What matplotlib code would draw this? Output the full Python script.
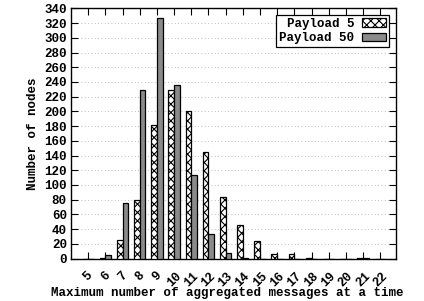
import numpy as np
import matplotlib
matplotlib.use("Agg")
from matplotlib import pyplot as plt

plt.rcParams['font.family'] = ['Liberation Mono', 'DejaVu Sans Mono']
plt.rcParams['font.weight'] = 'bold'
plt.rcParams['axes.labelweight'] = 'bold'
plt.rcParams['hatch.linewidth'] = 0.8

# values
max_aggregated = [5, 6, 7, 8, 9, 10, 11, 12, 13, 14, 15, 16, 17, 18, 19, 20, 21, 22]
payload_5 = [0, 1, 25, 80, 181, 229, 200, 145, 84, 45, 24, 6, 6, 1, 0, 0, 1, 0]
payload_50 = [0, 5, 76, 229, 327, 236, 114, 33, 7, 1, 0, 0, 0, 0, 0, 0, 1, 0]
y_ticks = list(range(0, 341, 20))

fig = plt.figure(figsize=(4.24, 3.01), dpi=100)
ax = fig.add_axes([0.1675, 0.141, 0.7665, 0.831])

x = np.array(max_aggregated)
w = 0.33
ax.bar(x - w / 2, payload_5, width=w, color="white", edgecolor="black",
       hatch="xxxx", linewidth=0.9, label="Payload 5", zorder=3)
ax.bar(x + w / 2, payload_50, width=w, color="#8a8a8a", edgecolor="black",
       linewidth=0.9, label="Payload 50", zorder=3)

ax.set_xlim(4, 22.92)
ax.set_ylim(0, 340)
ax.set_xticks(max_aggregated)
ax.set_xticklabels([str(v) for v in max_aggregated], rotation=45, ha="center", va="top")
ax.set_yticks(y_ticks)
ax.tick_params(axis="both", direction="in", length=5, width=0.8,
               top=True, right=True, labelsize=9, pad=3)
ax.tick_params(axis="x", pad=8)
ax.yaxis.grid(True, linestyle=(0, (1, 3)), color="#aaaaaa", linewidth=0.6)
for s in ax.spines.values():
    s.set_linewidth(1.0)

fig.text(0.537, 0.027, "Maximum number of aggregated messages at a time",
         fontsize=9, fontweight="bold", ha="center", va="center")
ax.set_ylabel("Number of nodes", fontsize=9, labelpad=4)

leg = ax.legend(loc="upper right", bbox_to_anchor=(0.985, 0.985), markerfirst=False,
                fontsize=9, fancybox=False, framealpha=1, edgecolor="black",
                handlelength=1.9, handleheight=0.7, borderpad=0.25,
                labelspacing=0.2, handletextpad=0.6, borderaxespad=0.2)
leg.get_frame().set_linewidth(0.9)
for t in leg.get_texts():
    t.set_ha("right")

fig.savefig("out.png", dpi=100)
